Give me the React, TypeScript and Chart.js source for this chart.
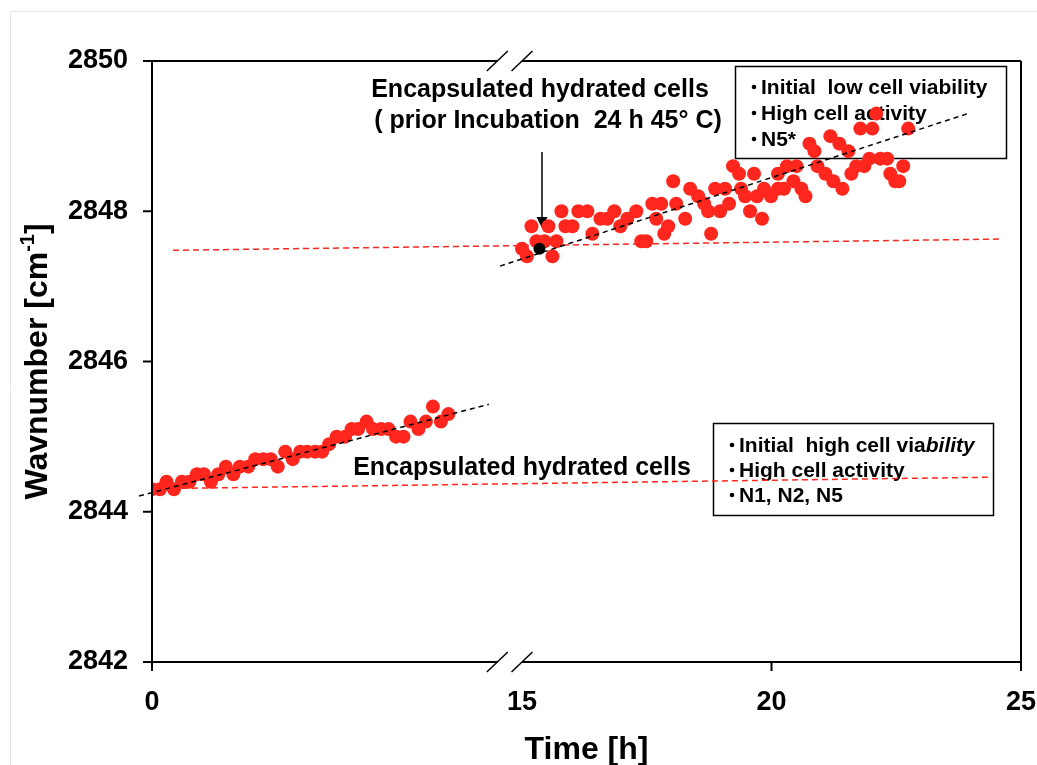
import React, { useEffect, useRef } from "react";
import { Chart, registerables } from "chart.js";

Chart.register(...registerables);

const FONT = "'Liberation Sans', Arial, Helvetica, sans-serif";
const RED = "rgb(255, 38, 30)";

// ---- axis break (time axis jumps from ~6.9 h to 15 h) ----
const AXIS_SHIFT = 7.585; // hours removed by the break
const BREAK_LEFT_END = 6.92; // h, end of the left axis segment
const BREAK_RIGHT_START = 15; // h, start of the right axis segment
const toAxis = (t: number) => (t >= 10 ? t - AXIS_SHIFT : t);

// ---- ticks ----
const X_MIN = 0;
const X_MAX = 25;
const X_TICKS = [0, 15, 20, 25];
const X_TICK_LABELS = ["0", "15", "20", "25"];
const Y_MIN = 2842;
const Y_MAX = 2850;
const Y_STEP = 2;
const Y_TICKS = [2842, 2844, 2846, 2848, 2850];

// ---- encapsulated hydrated cells (initial high viability) ----
const LOW_TIME = [
  0.0, 0.16, 0.29, 0.44, 0.6, 0.75, 0.9, 1.04, 1.18, 1.33, 1.48, 1.63, 1.76, 1.93,
  2.07, 2.23, 2.38, 2.52, 2.67, 2.82, 2.97, 3.11, 3.27, 3.41, 3.55, 3.7, 3.87, 4.0,
  4.13, 4.3, 4.43, 4.59, 4.74, 4.89, 5.04, 5.18, 5.34, 5.49, 5.63, 5.79, 5.94,
];
const LOW_WAVENUMBER = [
  2844.3, 2844.3, 2844.4, 2844.3, 2844.4, 2844.4, 2844.5, 2844.5, 2844.4, 2844.5,
  2844.6, 2844.5, 2844.6, 2844.6, 2844.7, 2844.7, 2844.7, 2844.6, 2844.8, 2844.7,
  2844.8, 2844.8, 2844.8, 2844.8, 2844.9, 2845.0, 2845.0, 2845.1, 2845.1, 2845.2,
  2845.1, 2845.1, 2845.1, 2845.0, 2845.0, 2845.2, 2845.1, 2845.2, 2845.4, 2845.2,
  2845.3,
];

// ---- encapsulated hydrated cells, prior incubation 24 h 45 °C ----
const HIGH_TIME = [
  15.0, 15.1, 15.19, 15.29, 15.45, 15.53, 15.61, 15.69, 15.79, 15.87, 16.01, 16.13,
  16.31, 16.41, 16.57, 16.71, 16.85, 16.97, 17.11, 17.29, 17.39, 17.49, 17.61, 17.69,
  17.79, 17.85, 17.93, 18.03, 18.09, 18.27, 18.37, 18.53, 18.65, 18.73, 18.79, 18.87,
  18.97, 19.07, 19.15, 19.23, 19.35, 19.39, 19.47, 19.57, 19.65, 19.71, 19.81, 19.85,
  19.99, 20.13, 20.13, 20.25, 20.31, 20.44, 20.5, 20.6, 20.68, 20.76, 20.86, 20.92,
  21.08, 21.18, 21.24, 21.36, 21.42, 21.54, 21.6, 21.7, 21.78, 21.86, 21.96, 22.02,
  22.1, 22.18, 22.32, 22.38, 22.48, 22.56, 22.64, 22.74,
];
const HIGH_WAVENUMBER = [
  2847.5, 2847.4, 2847.8, 2847.6, 2847.6, 2847.8, 2847.4, 2847.6, 2848.0, 2847.8,
  2847.8, 2848.0, 2848.0, 2847.7, 2847.9, 2847.9, 2848.0, 2847.8, 2847.9, 2848.0,
  2847.6, 2847.6, 2848.1, 2847.9, 2848.1, 2847.7, 2847.8, 2848.4, 2848.1, 2847.9,
  2848.3, 2848.2, 2848.1, 2848.0, 2847.7, 2848.3, 2848.0, 2848.3, 2848.1, 2848.6,
  2848.5, 2848.3, 2848.2, 2848.0, 2848.5, 2848.2, 2847.9, 2848.3, 2848.2, 2848.3,
  2848.5, 2848.3, 2848.6, 2848.4, 2848.6, 2848.3, 2848.2, 2848.9, 2848.8, 2848.6,
  2848.5, 2849.0, 2848.4, 2848.9, 2848.3, 2848.8, 2848.5, 2848.6, 2849.1, 2848.6,
  2848.7, 2849.1, 2849.3, 2848.7, 2848.7, 2848.5, 2848.4, 2848.4, 2848.6, 2849.1,
];

// ---- marked point (arrow) ----
const MARKED_TIME = [15.35];
const MARKED_WAVENUMBER = [2847.5];

// ---- trend lines (black dashed) ----
const LOW_TREND_TIME = [-0.26, 6.75];
const LOW_TREND_VALUE = [2844.21, 2845.43];
const HIGH_TREND_TIME = [14.56, 23.98];
const HIGH_TREND_VALUE = [2847.27, 2849.31];

// ---- reference lines (red dashed) ----
const LOW_REF_TIME = [0.4, 24.42];
const LOW_REF_VALUE = [2844.31, 2844.46];
const HIGH_REF_TIME = [0.42, 24.62];
const HIGH_REF_VALUE = [2847.48, 2847.63];

const pts = (ts: number[], vs: number[]) => ts.map((t, i) => ({ x: toAxis(t), y: vs[i] }));

function drawBulletBox(
  ctx: CanvasRenderingContext2D,
  box: { x: number; y: number; w: number; h: number },
  textX: number,
  firstBaseline: number,
  gap: number,
  lines: Array<Array<[string, boolean]>>
) {
  ctx.save();
  ctx.strokeStyle = "#000";
  ctx.lineWidth = 1.5;
  ctx.strokeRect(box.x + 0.5, box.y + 0.5, box.w, box.h);
  ctx.fillStyle = "#000";
  ctx.textAlign = "left";
  ctx.textBaseline = "alphabetic";
  lines.forEach((segs, i) => {
    const by = firstBaseline + i * gap;
    ctx.beginPath();
    ctx.arc(textX - 7, by - 7, 2.3, 0, Math.PI * 2);
    ctx.fill();
    let x = textX;
    segs.forEach(([s, italic]) => {
      ctx.font = `${italic ? "italic " : ""}bold 21px ${FONT}`;
      ctx.fillText(s, x, by);
      x += ctx.measureText(s).width;
    });
  });
  ctx.restore();
}

const decorPlugin = {
  id: "decor",
  beforeDatasetsDraw(chart: any) {
    const ctx: CanvasRenderingContext2D = chart.ctx;
    ctx.save();
    ctx.fillStyle = "#000";
    ctx.textAlign = "center";
    ctx.textBaseline = "alphabetic";
    ctx.font = `bold 25px ${FONT}`;
    ctx.fillText("Encapsulated hydrated cells", 540, 97);
    ctx.fillText("( prior Incubation  24 h 45\u00b0 C)", 548, 128);
    ctx.fillText("Encapsulated hydrated cells", 522, 475);

    // arrow
    ctx.strokeStyle = "#000";
    ctx.lineWidth = 1.5;
    ctx.beginPath();
    ctx.moveTo(542, 152);
    ctx.lineTo(542, 218);
    ctx.stroke();
    ctx.beginPath();
    ctx.moveTo(536.5, 217);
    ctx.lineTo(547.5, 217);
    ctx.lineTo(542, 228);
    ctx.closePath();
    ctx.fill();
    ctx.restore();

    drawBulletBox(ctx, { x: 735, y: 66, w: 271, h: 92 }, 761, 94, 26, [
      [["Initial  low cell viability", false]],
      [["High cell activity", false]],
      [["N5*", false]],
    ]);
    drawBulletBox(ctx, { x: 713, y: 423, w: 280, h: 92 }, 739, 452, 25, [
      [["Initial  high cell via", false], ["bility", true]],
      [["High cell activity", false]],
      [["N1, N2, N5", false]],
    ]);
  },
  afterDraw(chart: any) {
    const ctx: CanvasRenderingContext2D = chart.ctx;
    const ca = chart.chartArea;
    const xs = chart.scales.x;
    const ys = chart.scales.y;
    const X = (t: number) => xs.getPixelForValue(toAxis(t));
    const line = (x1: number, y1: number, x2: number, y2: number) => {
      ctx.beginPath();
      ctx.moveTo(x1, y1);
      ctx.lineTo(x2, y2);
      ctx.stroke();
    };
    ctx.save();
    // faint outer frame
    ctx.strokeStyle = "#e6e6e6";
    ctx.lineWidth = 1;
    line(10.5, 11.5, 1037, 11.5);
    line(10.5, 11.5, 10.5, 765);

    ctx.strokeStyle = "#000";
    ctx.lineWidth = 2;
    const bL = X(BREAK_LEFT_END);
    const bR = X(BREAK_RIGHT_START);
    // left & right axes
    line(ca.left, ca.top, ca.left, ca.bottom + 9);
    line(ca.right, ca.top, ca.right, ca.bottom + 9);
    // bottom & top axes with break
    [ca.bottom, ca.top].forEach((y) => {
      line(ca.left, y, bL, y);
      line(bR, y, ca.right, y);
      ctx.lineWidth = 1.5;
      line(bL - 10.5, y + 10, bL + 10.5, y - 10);
      line(bR - 10.5, y + 10, bR + 10.5, y - 10);
      ctx.lineWidth = 2;
    });
    // y ticks
    Y_TICKS.forEach((v) => {
      const y = ys.getPixelForValue(v);
      line(ca.left - 9, y, ca.left, y);
    });
    // x ticks (not at the break)
    X_TICKS.forEach((t) => {
      if (t === BREAK_RIGHT_START) return;
      const x = X(t);
      line(x, ca.bottom, x, ca.bottom + 9);
    });

    // axis titles
    ctx.fillStyle = "#000";
    ctx.textBaseline = "alphabetic";
    ctx.textAlign = "center";
    ctx.font = `bold 32px ${FONT}`;
    ctx.fillText("Time [h]", (ca.left + ca.right) / 2, 759);

    ctx.save();
    ctx.translate(47, (ca.top + ca.bottom) / 2);
    ctx.rotate(-Math.PI / 2);
    ctx.textAlign = "left";
    const main = "Wavnumber [cm";
    const sup = "-1";
    const end = "]";
    ctx.font = `bold 32px ${FONT}`;
    const wMain = ctx.measureText(main).width;
    const wEnd = ctx.measureText(end).width;
    ctx.font = `bold 20px ${FONT}`;
    const wSup = ctx.measureText(sup).width;
    let x = -(wMain + wSup + wEnd) / 2;
    ctx.font = `bold 32px ${FONT}`;
    ctx.fillText(main, x, 0);
    x += wMain;
    ctx.font = `bold 20px ${FONT}`;
    ctx.fillText(sup, x, -13);
    x += wSup;
    ctx.font = `bold 32px ${FONT}`;
    ctx.fillText(end, x, 0);
    ctx.restore();

    ctx.restore();
  },
};

export default function App() {
  const ref = useRef<HTMLCanvasElement | null>(null);
  useEffect(() => {
    if (!ref.current) return;
    const tickFont = { family: FONT, size: 27, weight: "bold" as const };
    const chart = new Chart(ref.current, {
      type: "scatter",
      data: {
        datasets: [
          {
            label: "marked",
            data: pts(MARKED_TIME, MARKED_WAVENUMBER),
            backgroundColor: "#000",
            borderWidth: 0,
            pointRadius: 6,
            order: 0,
          },
          {
            label: "trend low",
            data: pts(LOW_TREND_TIME, LOW_TREND_VALUE),
            showLine: true,
            borderColor: "#000",
            borderWidth: 1.5,
            borderDash: [5, 4],
            pointRadius: 0,
            clip: false,
            order: 1,
          },
          {
            label: "trend high",
            data: pts(HIGH_TREND_TIME, HIGH_TREND_VALUE),
            showLine: true,
            borderColor: "#000",
            borderWidth: 1.5,
            borderDash: [5, 4],
            pointRadius: 0,
            clip: false,
            order: 1,
          },
          {
            label: "high viability",
            data: pts(LOW_TIME, LOW_WAVENUMBER),
            backgroundColor: RED,
            borderWidth: 0,
            pointRadius: 7,
            order: 2,
          },
          {
            label: "low viability",
            data: pts(HIGH_TIME, HIGH_WAVENUMBER),
            backgroundColor: RED,
            borderWidth: 0,
            pointRadius: 7,
            order: 2,
          },
          {
            label: "ref low",
            data: pts(LOW_REF_TIME, LOW_REF_VALUE),
            showLine: true,
            borderColor: RED,
            borderWidth: 1.5,
            borderDash: [6, 4],
            pointRadius: 0,
            clip: false,
            order: 3,
          },
          {
            label: "ref high",
            data: pts(HIGH_REF_TIME, HIGH_REF_VALUE),
            showLine: true,
            borderColor: RED,
            borderWidth: 1.5,
            borderDash: [6, 4],
            pointRadius: 0,
            clip: false,
            order: 3,
          },
        ],
      },
      options: {
        responsive: false,
        animation: false,
        devicePixelRatio: 1,
        layout: { padding: { top: 61, right: 16, left: 0, bottom: 0 } },
        plugins: { legend: { display: false }, tooltip: { enabled: false } },
        scales: {
          x: {
            type: "linear",
            min: toAxis(X_MIN),
            max: toAxis(X_MAX),
            afterFit: (s: any) => {
              s.height = 103;
              s.paddingLeft = 0;
              s.paddingRight = 0;
            },
            afterBuildTicks: (s: any) => {
              s.ticks = X_TICKS.map((t) => ({ value: toAxis(t) }));
            },
            ticks: {
              callback: (_v: any, i: number) => X_TICK_LABELS[i],
              font: tickFont,
              color: "#000",
              padding: 24,
              maxRotation: 0,
              autoSkip: false,
            },
            grid: { display: false, drawTicks: false },
            border: { display: false },
          },
          y: {
            type: "linear",
            min: Y_MIN,
            max: Y_MAX,
            afterFit: (s: any) => {
              s.width = 152;
              s.paddingTop = 0;
              s.paddingBottom = 0;
            },
            ticks: {
              stepSize: Y_STEP,
              callback: (v: any) => String(v),
              font: tickFont,
              color: "#000",
              padding: 24,
            },
            grid: { display: false, drawTicks: false },
            border: { display: false },
          },
        },
      },
      plugins: [decorPlugin],
    });
    return () => chart.destroy();
  }, []);
  return (
    <div style={{ position: "fixed", left: 0, top: 0, width: 1037, height: 765, background: "#fff" }}>
      <canvas ref={ref} width={1037} height={765} style={{ display: "block" }} />
    </div>
  );
}
